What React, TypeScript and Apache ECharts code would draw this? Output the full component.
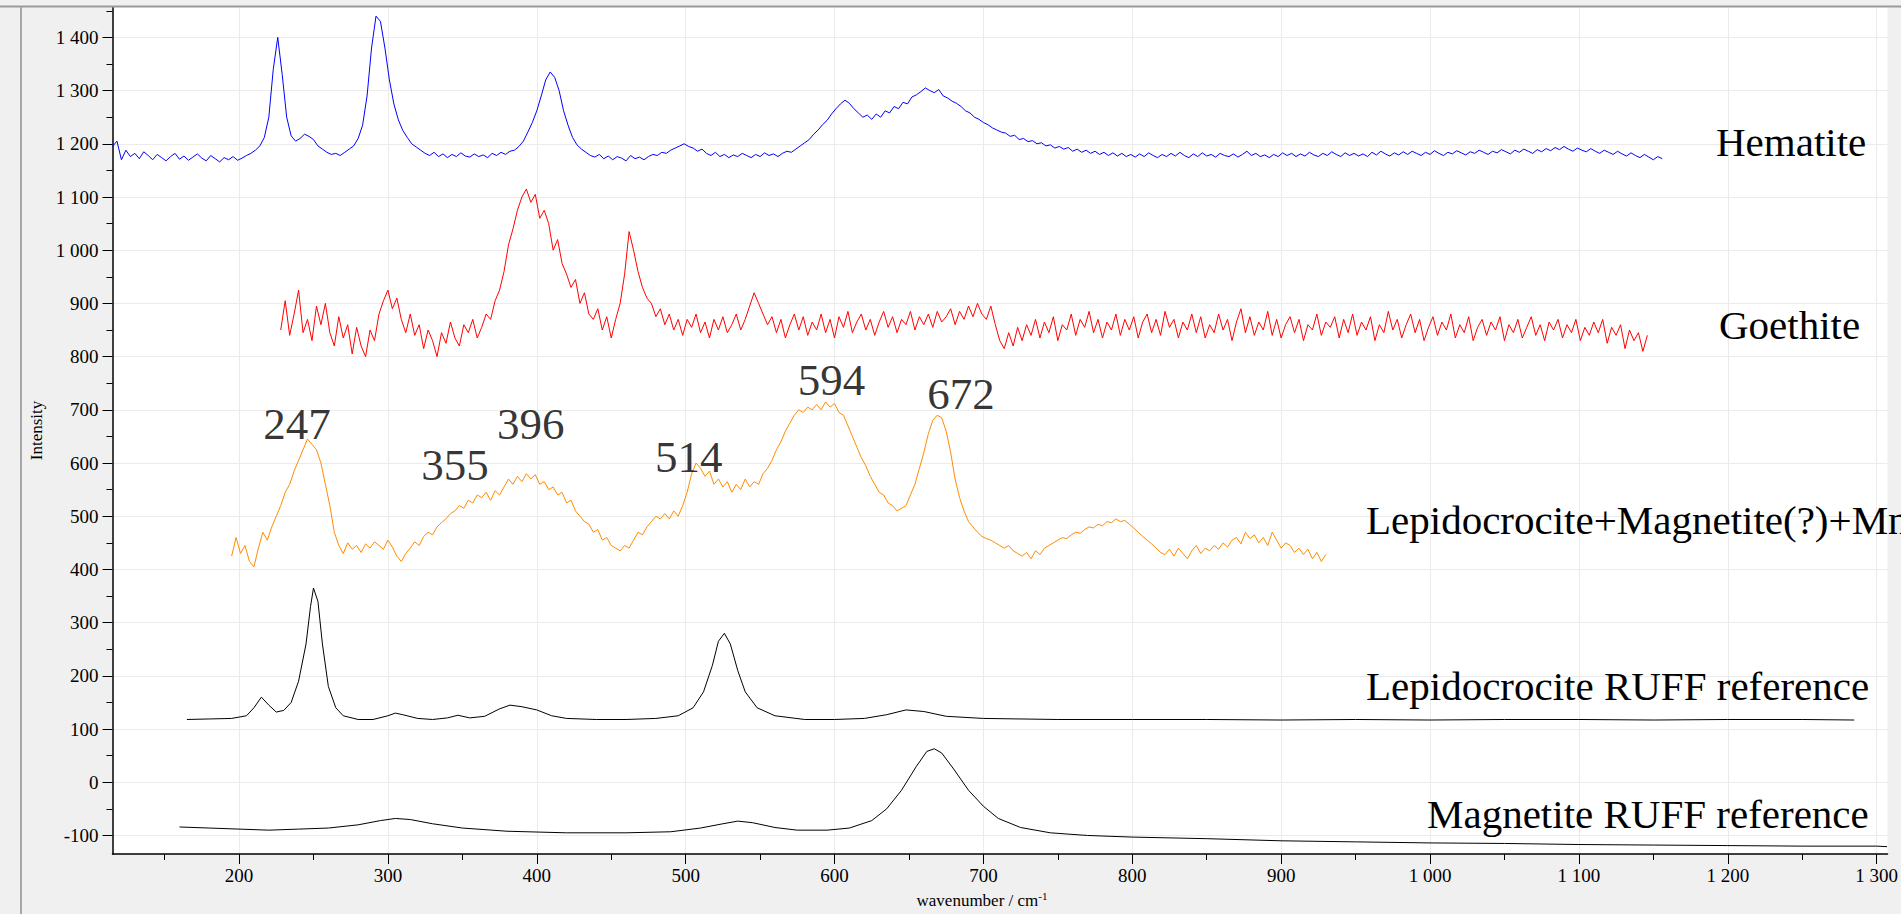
import React, { useEffect, useRef } from "react";
import * as echarts from "echarts";

// ---- axis ranges (data units) ----
const X_MIN = 115;
const X_MAX = 1307.3;
const Y_MIN = -134.8;
const Y_MAX = 1457.1;

const X_MAJOR = [200, 300, 400, 500, 600, 700, 800, 900, 1000, 1100, 1200, 1300];
const X_MINOR = [150, 250, 350, 450, 550, 650, 750, 850, 950, 1050, 1150, 1250];
const Y_MAJOR = [-100, 0, 100, 200, 300, 400, 500, 600, 700, 800, 900, 1000, 1100, 1200, 1300, 1400];
const Y_MINOR = [-50, 50, 150, 250, 350, 450, 550, 650, 750, 850, 950, 1050, 1150, 1250, 1350, 1450];

// ---- Hematite (blue), sampled every 3 cm-1 from 115 ----
const HEMATITE_START = 115;
const HEMATITE_STEP = 3;
const HEMATITE_Y = [
  1195, 1205, 1170, 1188, 1176, 1182, 1172, 1185, 1178, 1170,
  1180, 1174, 1168, 1176, 1182, 1171, 1177, 1169, 1175, 1181,
  1173, 1168, 1178, 1172, 1166, 1174, 1170, 1176, 1169, 1173,
  1178, 1182, 1188, 1196, 1212, 1250, 1340, 1400, 1330, 1250,
  1215, 1205, 1210, 1218, 1214, 1208, 1196, 1190, 1184, 1180,
  1182, 1178, 1184, 1190, 1196, 1210, 1235, 1290, 1380, 1440,
  1430, 1380, 1320, 1275, 1245, 1225, 1212, 1200, 1194, 1188,
  1182, 1178, 1184, 1176, 1181, 1174, 1180, 1176, 1183, 1177,
  1175, 1181, 1176, 1179, 1174, 1182, 1178, 1184, 1180, 1186,
  1188, 1195, 1205, 1222, 1240, 1262, 1290, 1320, 1335, 1325,
  1300, 1262, 1235, 1212, 1198, 1190, 1184, 1178, 1175, 1180,
  1172, 1177, 1170, 1176, 1173, 1168, 1178, 1172, 1175, 1170,
  1176, 1180, 1178, 1184, 1182, 1188, 1192, 1196, 1200, 1195,
  1192, 1186, 1190, 1182, 1178, 1184, 1176, 1180, 1174, 1179,
  1176, 1182, 1178, 1174, 1180, 1176, 1183, 1178, 1181, 1176,
  1182, 1186, 1184, 1190, 1196, 1202, 1208, 1218, 1226, 1236,
  1244, 1256, 1266, 1275, 1282, 1276, 1266, 1258, 1250, 1254,
  1246, 1256, 1250, 1262, 1258, 1270, 1266, 1278, 1275, 1288,
  1292, 1298, 1305, 1300, 1296, 1302, 1290, 1286, 1280, 1276,
  1270, 1262, 1258, 1250, 1246, 1240, 1236, 1230, 1226, 1222,
  1220, 1214, 1216, 1208, 1210, 1204, 1206, 1200, 1202, 1196,
  1198, 1192, 1195, 1190, 1193, 1186, 1190, 1184, 1188, 1182,
  1186, 1180, 1184, 1178, 1183, 1177, 1182, 1176, 1180, 1175,
  1181, 1176, 1183, 1178, 1174, 1180, 1176, 1182, 1177, 1184,
  1178, 1174, 1181, 1176, 1183, 1177, 1180, 1175, 1182, 1178,
  1176, 1181, 1175, 1180, 1186, 1178, 1182, 1176, 1179, 1174,
  1180, 1176, 1183, 1178, 1182, 1176, 1181, 1177, 1184, 1179,
  1176, 1182, 1178, 1185, 1180, 1176, 1183, 1178, 1182, 1177,
  1181, 1176, 1184, 1179, 1186, 1181, 1177, 1183, 1179, 1185,
  1180, 1186, 1182, 1178, 1184, 1180, 1187, 1182, 1178, 1184,
  1181, 1187, 1183, 1179, 1185, 1182, 1188, 1184, 1180, 1186,
  1183, 1189, 1185, 1181, 1188, 1184, 1190, 1186, 1182, 1189,
  1185, 1191, 1187, 1193, 1189, 1195, 1190, 1186, 1192, 1188,
  1185, 1191, 1186, 1182, 1188, 1184, 1180, 1186, 1181, 1177,
  1183, 1178, 1174, 1180, 1175, 1170, 1176, 1172,
];

// ---- Goethite (red), sampled every 3 cm-1 from 228 ----
const GOETHITE_START = 228;
const GOETHITE_STEP = 3;
const GOETHITE_Y = [
  850, 905, 840, 880, 925, 845, 870, 830, 895, 860,
  900, 845, 820, 875, 835, 860, 805, 855, 820, 800,
  850, 830, 880, 905, 925, 890, 910, 870, 845, 880,
  840, 860, 815, 850, 830, 800, 845, 825, 865, 835,
  820, 860, 845, 870, 835, 855, 880, 870, 905, 925,
  960, 1010, 1040, 1075, 1100, 1115, 1090, 1105, 1060, 1075,
  1050, 1000, 1020, 975, 955, 930, 945, 900, 920, 880,
  870, 890, 850, 875, 835, 870, 900, 955, 1035, 1000,
  960, 930, 910, 900, 875, 890, 860, 880, 850, 870,
  840, 870, 855, 880, 845, 865, 835, 870, 850, 875,
  845, 860, 880, 850, 870, 895, 920, 900, 880, 860,
  875, 845, 870, 835, 860, 880, 850, 875, 840, 865,
  850, 880, 845, 870, 835, 875, 855, 885, 845, 865,
  880, 850, 870, 840, 865, 885, 855, 875, 845, 870,
  860, 885, 850, 875, 860, 880, 855, 885, 865, 875,
  890, 860, 885, 870, 895, 875, 900, 880, 870, 895,
  860, 830, 815, 845, 820, 855, 830, 860, 840, 870,
  835, 865, 845, 875, 830, 860, 850, 880, 840, 870,
  855, 885, 845, 870, 835, 865, 850, 880, 840, 870,
  850, 875, 835, 865, 880, 845, 870, 840, 885, 855,
  870, 835, 865, 850, 880, 845, 875, 835, 860, 845,
  880, 850, 870, 830, 865, 890, 845, 875, 840, 865,
  850, 885, 840, 870, 835, 860, 875, 845, 870, 830,
  860, 850, 880, 840, 865, 855, 875, 835, 870, 845,
  880, 840, 865, 850, 875, 830, 860, 845, 885, 850,
  870, 835, 860, 880, 845, 870, 830, 855, 875, 840,
  865, 850, 880, 835, 860, 845, 875, 830, 855, 870,
  840, 865, 850, 875, 830, 860, 845, 870, 835, 855,
  875, 840, 860, 830, 865, 850, 870, 835, 860, 845,
  870, 830, 855, 840, 865, 845, 870, 825, 855, 840,
  860, 815, 850, 830, 845, 810, 840,
];

// ---- Lepidocrocite + Magnetite(?) + Mn (orange), every 3 cm-1 from 195 ----
const MIX_START = 195;
const MIX_STEP = 3;
const MIX_Y = [
  425, 460, 430, 445, 415, 405, 440, 470, 455, 480,
  500, 520, 545, 560, 585, 605, 625, 645, 635, 625,
  600, 560, 520, 470, 445, 430, 450, 438, 445, 432,
  448, 440, 452, 445, 438, 455, 442, 425, 415, 430,
  440, 452, 445, 462, 470, 465, 480, 488, 495, 505,
  510, 520, 515, 530, 525, 540, 535, 545, 530, 548,
  540, 555, 570, 560, 575, 565, 580, 570, 578, 560,
  565, 550, 555, 540, 545, 525, 530, 510, 500, 490,
  485, 470, 475, 455, 460, 445, 440, 435, 445, 440,
  455, 470, 465, 480, 490, 500, 495, 505, 495, 510,
  500, 520, 545, 580, 600, 590, 575, 585, 560, 570,
  555, 565, 545, 560, 550, 570, 555, 565, 560, 580,
  590, 605, 625, 640, 660, 675, 690, 700, 695, 705,
  700, 710, 700, 715, 705, 712, 695, 690, 670, 650,
  630, 610, 595, 575, 560, 545, 540, 525, 520, 510,
  515, 520, 540, 560, 590, 620, 655, 680, 690, 685,
  660, 620, 570, 535, 510, 490, 480, 470, 462, 458,
  455, 450, 445, 440, 445, 435, 430, 425, 432, 420,
  435, 428, 440, 445, 450, 455, 460, 458, 465, 470,
  468, 475, 480, 478, 485, 482, 490, 488, 495, 490,
  492, 485, 478, 470, 462, 455, 448, 440, 432, 428,
  438, 425, 440, 430, 420, 435, 445, 430, 440, 435,
  445, 438, 450, 442, 455, 460, 448, 470, 458, 465,
  450, 460, 445, 470, 455, 440, 450, 445, 432, 440,
  428, 438, 420, 432, 415, 428,
];

// ---- Lepidocrocite RUFF reference (black) [wavenumber, intensity] ----
const LEPIDO_REF: [number, number][] = [
  [165, 118], [180, 119], [195, 120], [205, 125], [210, 140], [215, 160], [220, 145], [225, 132], [230, 135], [235, 150],
  [240, 190], [245, 260], [248, 330], [250, 365], [253, 340], [256, 260], [260, 180], [265, 140], [270, 125], [280, 118],
  [290, 118], [300, 125], [305, 130], [310, 127], [320, 120], [330, 118], [340, 121], [347, 126], [355, 121], [365, 124],
  [375, 138], [382, 145], [390, 142], [400, 136], [410, 125], [420, 120], [440, 118], [460, 118], [480, 120], [495, 125],
  [505, 140], [512, 170], [518, 220], [522, 265], [526, 280], [530, 260], [535, 210], [540, 170], [548, 140], [560, 125],
  [580, 118], [600, 118], [620, 120], [635, 127], [648, 136], [660, 133], [675, 124], [700, 120], [750, 118], [800, 118],
  [850, 118], [900, 117], [950, 118], [1000, 117], [1050, 118], [1100, 118], [1150, 117], [1200, 118], [1250, 118], [1285, 117],
];

// ---- Magnetite RUFF reference (black) [wavenumber, intensity] ----
const MAGNETITE_REF: [number, number][] = [
  [160, -84], [180, -86], [200, -88], [220, -90], [240, -88], [260, -86], [280, -80], [295, -72], [305, -68], [315, -70],
  [330, -78], [350, -86], [380, -92], [420, -95], [460, -95], [490, -93], [510, -86], [525, -78], [535, -73], [545, -76],
  [560, -85], [575, -90], [595, -90], [610, -86], [625, -72], [635, -50], [645, -15], [655, 30], [662, 58], [667, 63],
  [672, 55], [680, 25], [690, -15], [700, -45], [710, -68], [725, -85], [745, -95], [770, -100], [800, -103], [850, -106],
  [900, -110], [950, -112], [1000, -114], [1050, -115], [1100, -117], [1150, -118], [1200, -119], [1250, -120], [1300, -120], [1307, -121],
];

// ---- peak annotations ----
const PEAK_LABELS = ["247", "355", "396", "514", "594", "672"];
const PEAK_LABEL_X = [239, 345, 396, 502, 598, 685];
const PEAK_LABEL_Y = [674, 596, 674, 612, 756, 730];

// ---- series names drawn at the right ----
const SERIES_NAMES = [
  "Hematite",
  "Goethite",
  "Lepidocrocite+Magnetite(?)+Mn",
  "Lepidocrocite RUFF reference",
  "Magnetite RUFF reference",
];

const SERIF = "'Liberation Serif', 'Times New Roman', serif";

function fmt(v: number): string {
  const a = Math.abs(v);
  if (a >= 1000) {
    return (v < 0 ? "-" : "") + Math.floor(a / 1000) + " " + String(a % 1000).padStart(3, "0");
  }
  return String(v);
}

function regular(start: number, step: number, ys: number[]): [number, number][] {
  return ys.map((y, i) => [start + i * step, y]);
}

export default function App() {
  const ref = useRef<HTMLDivElement>(null);

  useEffect(() => {
    if (!ref.current) return;
    const chart = echarts.init(ref.current, undefined, { renderer: "svg" });

    const lineSeries = (name: string, data: [number, number][], color: string) => ({
      name,
      type: "line",
      xAxisIndex: 0,
      yAxisIndex: 0,
      data,
      showSymbol: false,
      symbol: "none",
      silent: true,
      lineStyle: { color, width: 1 },
      itemStyle: { color },
      z: 3,
    });

    const nameLabels = [
      { x: 1716, y: 142 },
      { x: 1719, y: 324.5 },
      { x: 1366, y: 520 },
      { x: 1366, y: 686 },
      { x: 1427, y: 814 },
    ];

    chart.setOption({
      animation: false,
      backgroundColor: "#f0f0f0",
      grid: {
        left: 112.5,
        top: 7,
        right: 0,
        bottom: 52,
        show: true,
        backgroundColor: "#ffffff",
        borderWidth: 0,
      },
      xAxis: [
        {
          type: "value",
          min: X_MIN,
          max: X_MAX,
          position: "bottom",
          axisLine: { show: true, onZero: false, lineStyle: { color: "#000", width: 1.5 } },
          axisTick: { show: true, customValues: X_MAJOR, length: 10, lineStyle: { color: "#000" } },
          axisLabel: {
            customValues: X_MAJOR,
            formatter: (v: number) => fmt(v),
            fontFamily: SERIF,
            fontSize: 19,
            color: "#000",
            margin: 12,
          },
          splitLine: { show: true, lineStyle: { color: "#ebebeb", width: 1 } },
          name: "{a|wavenumber / cm}{s|-1}",
          nameLocation: "middle",
          nameGap: 36,
          nameTextStyle: {
            fontFamily: SERIF,
            color: "#000",
            padding: [0, 36, 0, 0],
            rich: {
              a: { fontFamily: SERIF, fontSize: 17, color: "#000", lineHeight: 20 },
              s: { fontFamily: SERIF, fontSize: 11, color: "#000", lineHeight: 20, verticalAlign: "top", padding: [0, 0, 8, 0] },
            },
          },
        },
        {
          type: "value",
          min: X_MIN,
          max: X_MAX,
          position: "bottom",
          axisLine: { show: false, onZero: false },
          axisTick: { show: true, customValues: X_MINOR, length: 6, lineStyle: { color: "#000" } },
          axisLabel: { show: false },
          splitLine: { show: false },
        },
      ],
      yAxis: [
        {
          type: "value",
          min: Y_MIN,
          max: Y_MAX,
          position: "left",
          axisLine: { show: true, onZero: false, lineStyle: { color: "#000", width: 1.5 } },
          axisTick: { show: true, customValues: Y_MAJOR, length: 10, lineStyle: { color: "#000" } },
          axisLabel: {
            customValues: Y_MAJOR,
            formatter: (v: number) => fmt(v),
            fontFamily: SERIF,
            fontSize: 19,
            color: "#000",
            margin: 14,
          },
          splitLine: { show: true, lineStyle: { color: "#ebebeb", width: 1 } },
          name: "Intensity",
          nameLocation: "middle",
          nameGap: 67,
          nameTextStyle: { fontFamily: SERIF, fontSize: 17, color: "#000" },
        },
        {
          type: "value",
          min: Y_MIN,
          max: Y_MAX,
          position: "left",
          axisLine: { show: false, onZero: false },
          axisTick: { show: true, customValues: Y_MINOR, length: 6, lineStyle: { color: "#000" } },
          axisLabel: { show: false },
          splitLine: { show: false },
        },
      ],
      graphic: [
        {
          type: "line",
          shape: { x1: 0, y1: 6.5, x2: 1901, y2: 6.5 },
          style: { stroke: "#9a9a9a", lineWidth: 2 },
          silent: true,
          z: 10,
        },
        {
          type: "line",
          shape: { x1: 21, y1: 7, x2: 21, y2: 914 },
          style: { stroke: "#a8a8a8", lineWidth: 2 },
          silent: true,
          z: 10,
        },
        ...SERIES_NAMES.map((t, i) => ({
          type: "text",
          x: nameLabels[i].x,
          y: nameLabels[i].y,
          silent: true,
          z: 20,
          style: {
            text: t,
            fontFamily: SERIF,
            fontSize: 41,
            fill: "#000",
            align: "left",
            verticalAlign: "middle",
          },
        })),
      ],
      series: [
        lineSeries("Hematite", regular(HEMATITE_START, HEMATITE_STEP, HEMATITE_Y), "#0000ff"),
        lineSeries("Goethite", regular(GOETHITE_START, GOETHITE_STEP, GOETHITE_Y), "#ff0000"),
        lineSeries("Lepidocrocite+Magnetite(?)+Mn", regular(MIX_START, MIX_STEP, MIX_Y), "#ff8c00"),
        lineSeries("Lepidocrocite RUFF reference", LEPIDO_REF, "#000000"),
        lineSeries("Magnetite RUFF reference", MAGNETITE_REF, "#000000"),
        {
          name: "peaks",
          type: "scatter",
          xAxisIndex: 0,
          yAxisIndex: 0,
          symbolSize: 0,
          silent: true,
          z: 5,
          data: PEAK_LABELS.map((l, i) => ({ name: l, value: [PEAK_LABEL_X[i], PEAK_LABEL_Y[i]] })),
          label: {
            show: true,
            position: "inside",
            formatter: "{b}",
            fontFamily: SERIF,
            fontSize: 45,
            color: "#000",
          },
        },
      ],
    });

    return () => chart.dispose();
  }, []);

  return (
    <div
      ref={ref}
      style={{ position: "fixed", left: 0, top: 0, width: 1901, height: 914 }}
    />
  );
}
